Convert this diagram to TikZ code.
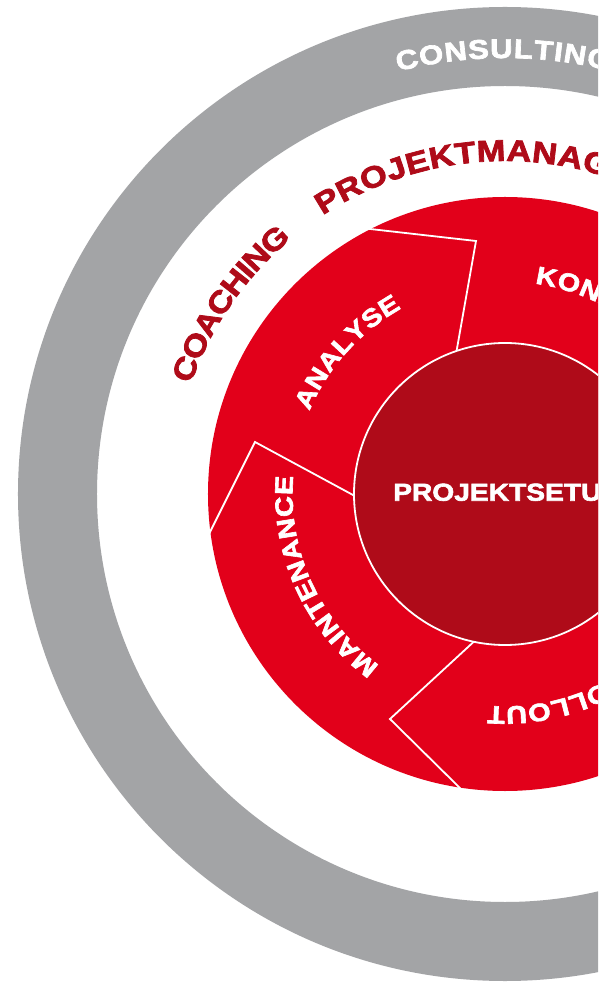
\documentclass[tikz,border=0pt]{standalone}
\usepackage{fontspec}
\newfontfamily\wf[FakeStretch=1.15,FakeBold=2.5]{Liberation Sans}
\definecolor{cred}{RGB}{226,0,26}
\definecolor{cdark}{RGB}{175,11,25}
\definecolor{cgray}{RGB}{163,164,166}
\newdimen\arcacc
% #1 name, #2 baseline radius, #3 start angle, #4 tracking, #5 font size, #6 colour, #7 letter/width list
\newcommand\arcletters[7]{%
  \global\arcacc=0pt\relax
  \foreach \ch/\cw [count=\k] in {#7}{%
    \pgfmathsetmacro\arcwd{\cw/1000*#5*1.15}%
    \pgfmathsetmacro\arcang{#3-(\the\arcacc+0.5*\arcwd)/(#2)*57.29578}%
    \node[name=#1\k, rotate=\arcang-90, anchor=base, inner sep=0pt, text=#6,
          font={\wf\bfseries\fontsize{#5}{#5}\selectfont}] at (\arcang:#2pt) {\ch};%
    \pgfmathsetmacro\arcstep{\arcwd+#4}%
    \global\advance\arcacc by \arcstep pt\relax
  }%
}
\tikzset{
  seg/.style={draw=white, line width=1.8pt, line join=miter},
}
\begin{document}
\begin{tikzpicture}[x=1pt,y=1pt]
\clip (-505,-488) rectangle (93,494);
\fill[white] (-505,-488) rectangle (93,494);
% grey ring
\fill[cgray, even odd rule] (0,0) circle[radius=487pt] (0,0) circle[radius=408pt];
% red disc
\fill[cred] (0,0) circle[radius=297pt];
% segment boundaries
\coordinate (b1o) at (-137.5,265.3);
\coordinate (b1t) at (-29,253);
\coordinate (b1i) at (-50.2,133);
\coordinate (b2o) at (-296.2,-40.4);
\coordinate (b2t) at (-250,52);
\coordinate (b2i) at (-142.2,-6.3);
\coordinate (b3o) at (-41.5,-297.5);
\coordinate (b3t) at (-115,-225);
\coordinate (b3i) at (-24.0,-141.1);
\draw[seg] (b1o) -- (b1t) -- (b1i);
\draw[seg] (b2o) -- (b2t) -- (b2i);
\draw[seg] (b3o) -- (b3t) -- (b3i);
% centre
\node[circle, fill=cdark, draw=white, line width=1.8pt, minimum size=302pt, inner sep=0pt] (core) at (0,0) {};
\node[anchor=base west, inner sep=0pt, text=white, font={\wf\bfseries\fontsize{24.5}{24.5}\selectfont}] (setup) at (-112,-6.7) {PROJEKTSETUP};
% ring texts
\arcletters{cons}{436}{104.2}{0.9}{27}{white}{C/722,O/778,N/722,S/667,U/722,L/611,T/611,I/278,N/722,G/778}
\arcletters{pm}{333}{123.2}{0.3}{30}{cdark}{P/667,R/722,O/778,J/556,E/667,K/722,T/611,M/833,A/722,N/722,A/722,G/778,E/667,M/833,E/667,N/722,T/611}
\arcletters{coach}{333}{160.75}{-1.2}{30}{cdark}{C/722,O/778,A/722,C/722,H/722,I/278,N/722,G/778}
\arcletters{ana}{212.5}{157.0}{0.5}{25}{white}{A/722,N/722,A/722,L/611,Y/667,S/667,E/667}
\arcletters{kon}{212.5}{81.9}{0.5}{25}{white}{K/722,O/778,N/722,Z/611,E/667,P/667,T/611,I/278,O/778,N/722}
\arcletters{main}{212.5}{233.8}{0.5}{25}{white}{M/833,A/722,I/278,N/722,T/611,E/667,N/722,A/722,N/722,C/722,E/667}
\arcletters{roll}{212.5}{303.6}{0.5}{25}{white}{R/722,O/778,L/611,L/611,O/778,U/722,T/611}
\end{tikzpicture}
\end{document}
